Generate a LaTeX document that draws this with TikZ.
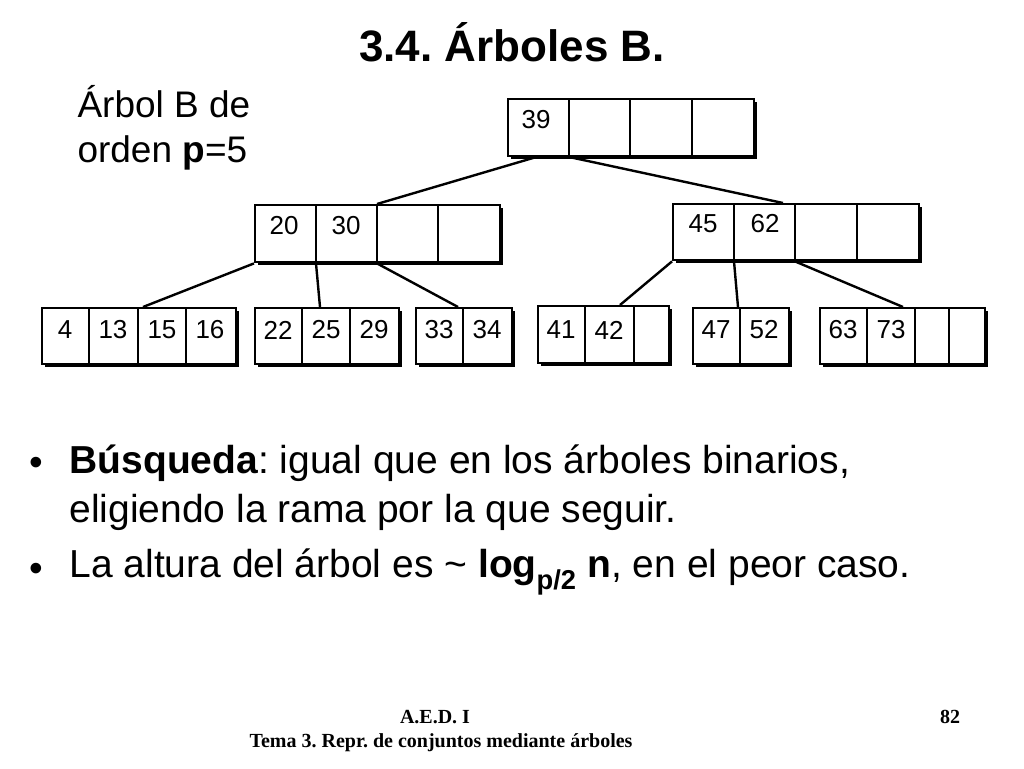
\documentclass[tikz,border=0pt]{standalone}
\usepackage{fontspec}
\setmainfont{Liberation Sans}
\newfontfamily\footfont{Liberation Serif}
\usetikzlibrary{shadows}
\frenchspacing
\tikzset{
  bbox/.style={draw,line width=2.4pt,fill=white,inner sep=0pt,anchor=north west,
    drop shadow={shadow xshift=3pt,shadow yshift=-3pt,opacity=1,fill=black}},
  sep/.style={line width=2.4pt},
  link/.style={line width=2.4pt},
  key/.style={font=\fontsize{26}{28}\selectfont},
  txt/.style={font=\fontsize{39}{49}\selectfont,anchor=west,align=left},
  foot/.style={font=\footfont\bfseries\fontsize{20}{22}\selectfont}
}
% box: name, left, top, width, height, cell offsets
\newcommand{\bbox}[6]{%
  \node[bbox,minimum width=#4pt,minimum height=#5pt] (#1) at (#2,#3) {};
  \foreach \d in {#6}
    \draw[sep] ([xshift=\d pt]#1.north west) -- ([xshift=\d pt]#1.south west);
}
\begin{document}
\begin{tikzpicture}[x=1pt,y=-1pt]
\useasboundingbox (0,0) rectangle (1024,768);

\node[font=\bfseries\fontsize{44}{48}\selectfont] (title) at (512,42) {3.4. Árboles B.};
\node[font=\fontsize{37}{45}\selectfont,align=left,anchor=north west] (label) at (74,82)
  {Árbol B de\\orden \textbf{p}=5};

% nodes
\bbox{root}{507}{98}{246}{57}{62,123,185}
\bbox{left}{254}{204}{245}{57}{62,123,184}
\bbox{right}{672}{203}{246}{56}{62,123,185}
\bbox{a}{41}{307}{194}{56}{48,97,145}
\bbox{b}{254}{307}{144}{56}{48,96}
\bbox{c}{415}{307}{96}{56}{48}
\bbox{d}{537}{305}{131}{57}{48,97}
\bbox{e}{692}{307}{96}{56}{48}
\bbox{f}{819}{307}{165}{56}{48,96,130}

% keys
\node[key] (k39) at (536,120) {39};
\node[key] (k20) at (284,226) {20};
\node[key] (k30) at (346,226) {30};
\node[key] (k45) at (703,224) {45};
\node[key] (k62) at (765,224) {62};
\foreach \x/\k in {65/4,113/13,162/15,210/16,278/22,326/25,374/29,439/33,487/34,561/41,609/42,716/47,764/52,843/63,891/73}
  \node[key] (k\k) at (\x,330) {\k};

% links
\draw[link] ([xshift=28pt]root.south west) -- ([xshift=123pt]left.north west);
\draw[link] ([xshift=64pt]root.south west) -- ([xshift=111pt]right.north west);
\draw[link] (left.south west) -- ([xshift=102pt]a.north west);
\draw[link] ([xshift=62pt]left.south west) -- ([xshift=66pt]b.north west);
\draw[link] ([xshift=123pt]left.south west) -- ([xshift=43pt]c.north west);
\draw[link] (right.south west) -- ([xshift=83pt]d.north west);
\draw[link] ([xshift=62pt]right.south west) -- ([xshift=46pt]e.north west);
\draw[link] ([xshift=123pt]right.south west) -- ([xshift=84pt]f.north west);

% text
\node[txt] (b1) at (26,466) {•};
\node[txt,anchor=north west] (t1) at (66,441) {\textbf{Búsqueda}: igual que en los árboles binarios,\\eligiendo la rama por la que seguir.};
\node[txt] (b2) at (26,572) {•};
\node[txt] (t2) at (66,572) {La altura del árbol es \textasciitilde{} \textbf{log\textsubscript{p/2} n}, en el peor caso.};

\node[foot] (f1) at (435,717) {A.E.D. I};
\node[foot] (f2) at (950,717) {82};
\node[foot] (f3) at (441,743) {Tema 3. Repr. de conjuntos mediante árboles};
\end{tikzpicture}
\end{document}
